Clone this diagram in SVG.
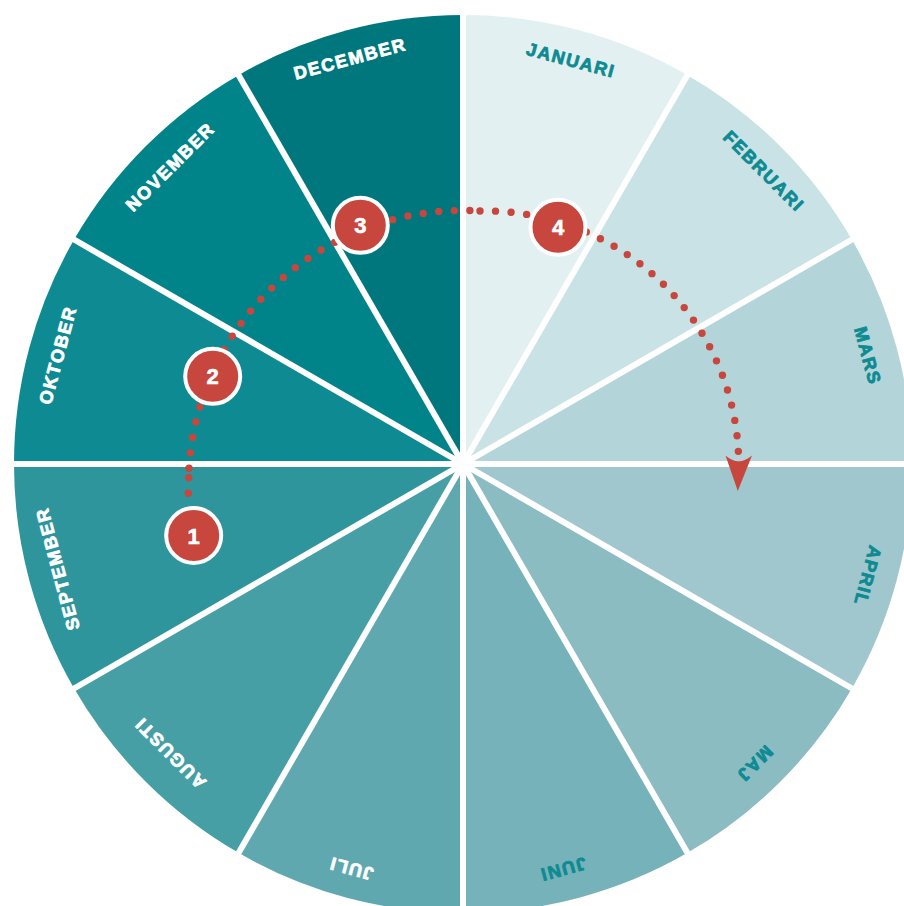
<svg xmlns="http://www.w3.org/2000/svg" width="904" height="906" viewBox="0 0 904 906">
<style>
.lbl{font-family:"Liberation Sans",Arial,sans-serif;font-weight:bold;font-size:18px;letter-spacing:1.6px;text-anchor:middle;stroke-width:0.8px;stroke-linejoin:round}
.w{fill:#ffffff;stroke:#ffffff}
.t{fill:#0e8a92;stroke:#0e8a92}
.sep{stroke:#ffffff;stroke-width:6;fill:none}
.dots{fill:none;stroke:#c7463d;stroke-width:7.4;stroke-linecap:round;stroke-dasharray:0 15.6}
.badge circle{fill:#c7463d;stroke:#ffffff;stroke-width:4}
.badge text{font-family:"Liberation Sans",Arial,sans-serif;font-weight:bold;font-size:22px;fill:#ffffff;stroke:#ffffff;stroke-width:0.6px;text-anchor:middle}
</style>
<rect width="904" height="906" fill="#ffffff"/>
<g id="segments">
<path id="januari" d="M463,464 L463,15 A449,449 0 0 1 687.5,75.15 Z" fill="#e3f0f1"/>
<path id="februari" d="M463,464 L687.5,75.15 A449,449 0 0 1 851.85,239.5 Z" fill="#c9e2e5"/>
<path id="mars" d="M463,464 L851.85,239.5 A449,449 0 0 1 912,464 Z" fill="#b3d5d9"/>
<path id="april" d="M463,464 L912,464 A449,449 0 0 1 851.85,688.5 Z" fill="#9fc7cd"/>
<path id="maj" d="M463,464 L851.85,688.5 A449,449 0 0 1 687.5,852.85 Z" fill="#8abcc2"/>
<path id="juni" d="M463,464 L687.5,852.85 A449,449 0 0 1 463,913 Z" fill="#76b2b9"/>
<path id="juli" d="M463,464 L463,913 A449,449 0 0 1 238.5,852.85 Z" fill="#5fa8b0"/>
<path id="augusti" d="M463,464 L238.5,852.85 A449,449 0 0 1 74.15,688.5 Z" fill="#479fa6"/>
<path id="september" d="M463,464 L74.15,688.5 A449,449 0 0 1 14,464 Z" fill="#2e959c"/>
<path id="oktober" d="M463,464 L14,464 A449,449 0 0 1 74.15,239.5 Z" fill="#0e8b92"/>
<path id="november" d="M463,464 L74.15,239.5 A449,449 0 0 1 238.5,75.15 Z" fill="#01838a"/>
<path id="december" d="M463,464 L238.5,75.15 A449,449 0 0 1 463,15 Z" fill="#00777c"/>
</g>
<g id="separators">
<line class="sep" x1="463" y1="0" x2="463" y2="928"/>
<line class="sep" x1="695" y1="62" x2="231" y2="866"/>
<line class="sep" x1="865" y1="232" x2="61" y2="696"/>
<line class="sep" x1="0" y1="464" x2="926" y2="464"/>
<line class="sep" x1="865" y1="696" x2="61" y2="232"/>
<line class="sep" x1="695" y1="866" x2="231" y2="62"/>
</g>
<g id="labels">
<text class="lbl t" transform="translate(571,60) rotate(15)" dy="0.36em">JANUARI</text>
<text class="lbl t" transform="translate(764,171) rotate(45)" dy="0.36em">FEBRUARI</text>
<text class="lbl t" transform="translate(868,355.8) rotate(75)" dy="0.36em">MARS</text>
<text class="lbl t" transform="translate(868,576) rotate(105)" dy="0.36em">APRIL</text>
<text class="lbl t" transform="translate(755,764) rotate(135)" dy="0.36em">MAJ</text>
<text class="lbl t" transform="translate(563,869.5) rotate(165)" dy="0.36em">JUNI</text>
<text class="lbl w" transform="translate(351,869) rotate(195)" dy="0.36em">JULI</text>
<text class="lbl w" transform="translate(170,753.3) rotate(225)" dy="0.36em">AUGUSTI</text>
<text class="lbl w" transform="translate(57.5,569) rotate(255)" dy="0.36em">SEPTEMBER</text>
<text class="lbl w" transform="translate(57.5,355) rotate(285)" dy="0.36em">OKTOBER</text>
<text class="lbl w" transform="translate(170,166.7) rotate(315)" dy="0.36em">NOVEMBER</text>
<text class="lbl w" transform="translate(350,58.5) rotate(345)" dy="0.36em">DECEMBER</text>
</g>
<g id="connectors">
<path class="dots" d="M188.3,493.3 L189,470"/>
<path class="dots" d="M189,468.3 A274.5,274.5 0 0 1 471,210.6"/>
<path class="dots" d="M480,211 A253.7,253.7 0 0 1 738.5,455"/>
<path d="M725.5,455.5 Q738.5,467 752,455.5 L737.8,491 Z" fill="#c7463d"/>
</g>
<g id="step1" class="badge"><circle cx="193.7" cy="535.5" r="27.5"/><text x="193.7" y="543.5">1</text></g>
<g id="step2" class="badge"><circle cx="212.7" cy="376.3" r="27.5"/><text x="212.7" y="384.3">2</text></g>
<g id="step3" class="badge"><circle cx="360.3" cy="225.3" r="27.5"/><text x="360.3" y="233.3">3</text></g>
<g id="step4" class="badge"><circle cx="558" cy="227.3" r="27.5"/><text x="558" y="235.3">4</text></g>
</svg>
